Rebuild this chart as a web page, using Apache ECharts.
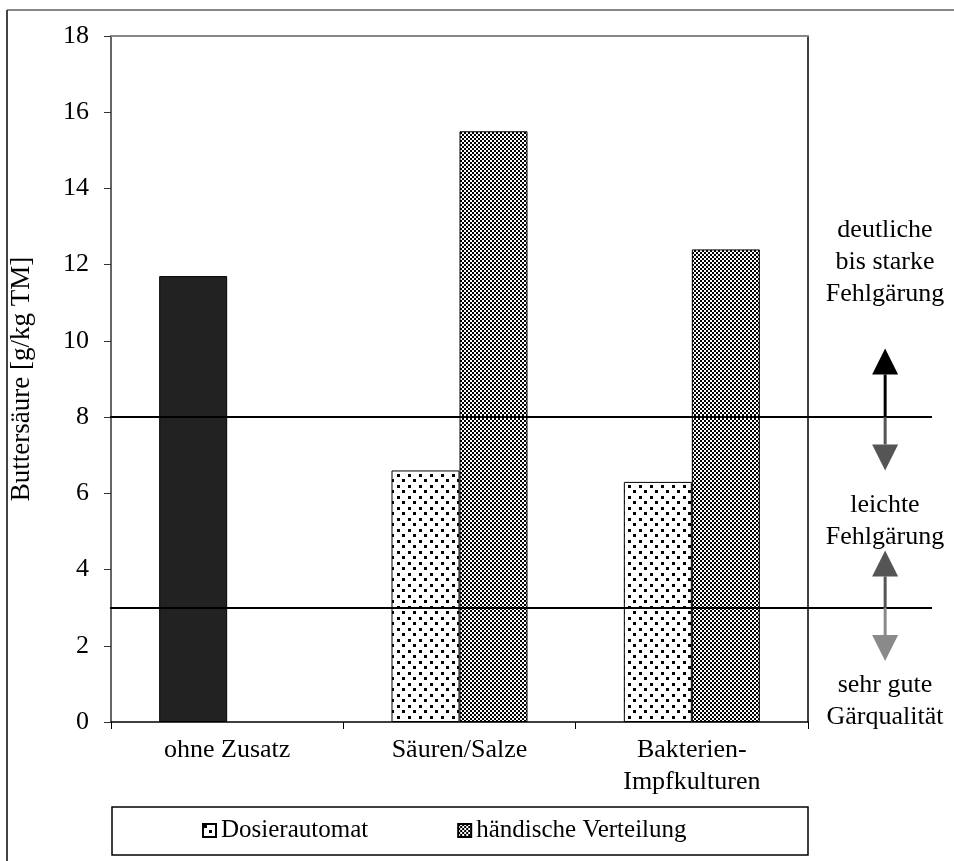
<!DOCTYPE html>
<html>
<head>
<meta charset="utf-8">
<script src="https://cdn.jsdelivr.net/npm/echarts@6/dist/echarts.min.js"></script>
<style>
html,body{margin:0;padding:0;background:#fff;}
#chart{width:954px;height:861px;}
</style>
</head>
<body>
<div id="chart"></div>
<script>
// ---- data ----
var categories = ['ohne Zusatz', 'Säuren/Salze', 'Bakterien-\nImpfkulturen'];
var seriesNames = ['Dosierautomat', 'händische Verteilung'];
var dosierValues = [11.7, 6.6, 6.3];
var haendischValues = [null, 15.5, 12.4];
var thresholds = [8, 3];
var arrowFrom = [8, 8, 3, 3];
var arrowTo = [9.8, 6.6, 4.5, 1.6];
var zoneLabels = ['deutliche\nbis starke\nFehlgärung', 'leichte\nFehlgärung', 'sehr gute\nGärqualität'];
var yAxisName = 'Buttersäure [g/kg TM]';

// ---- patterns ----
function dotPattern() {
  var c = document.createElement('canvas');
  c.width = 11; c.height = 11;
  var g = c.getContext('2d');
  g.fillStyle = '#fff'; g.fillRect(0, 0, 11, 11);
  g.fillStyle = '#000';
  g.fillRect(1, 1, 3, 3);
  g.fillRect(6, 6, 3, 3);
  return c;
}
function checkerPattern() {
  var c = document.createElement('canvas');
  c.width = 4; c.height = 4;
  var g = c.getContext('2d');
  g.fillStyle = '#fff'; g.fillRect(0, 0, 4, 4);
  g.fillStyle = '#000';
  g.fillRect(0, 0, 2, 2);
  g.fillRect(2, 2, 2, 2);
  return c;
}

var FONT = "'Liberation Serif','Times New Roman',serif";
var chart = echarts.init(document.getElementById('chart'), null, {renderer: 'canvas'});

var arrowColors = ['#000', '#555', '#555', '#8a8a8a'];
var arrowData = arrowFrom.map(function (f, i) { return [0.943, f, arrowTo[i], i]; });

var option = {
  backgroundColor: '#fff',
  animation: false,
  textStyle: {fontFamily: FONT},
  grid: [
    {left: 110, right: 146, top: 36, bottom: 139},
    {left: 110, right: 22, top: 36, bottom: 139}
  ],
  legend: {
    data: seriesNames,
    left: 202, top: 818, padding: 0,
    icon: 'rect',
    itemWidth: 13, itemHeight: 13,
    itemGap: 89,
    textStyle: {fontFamily: FONT, fontSize: 25, color: '#000'}
  },
  xAxis: [
    {
      type: 'category', gridIndex: 0, data: categories,
      axisLine: {lineStyle: {color: '#000', width: 1.5}},
      axisTick: {show: true, length: 7, lineStyle: {color: '#000', width: 1}},
      axisLabel: {margin: 12, fontFamily: FONT, fontSize: 26, color: '#000', lineHeight: 32, interval: 0}
    },
    {
      type: 'category', gridIndex: 0, position: 'top', data: categories,
      axisLine: {show: true, onZero: false, lineStyle: {color: '#888', width: 2}},
      axisTick: {show: false}, axisLabel: {show: false}
    },
    {type: 'value', gridIndex: 1, min: 0, max: 1, show: false}
  ],
  yAxis: [
    {
      type: 'value', gridIndex: 0, min: 0, max: 18, interval: 2,
      name: yAxisName, nameLocation: 'middle', nameGap: 76,
      nameTextStyle: {fontFamily: FONT, fontSize: 27, color: '#000'},
      axisLine: {show: true, lineStyle: {color: '#333', width: 1.5}},
      axisTick: {show: true, length: 7, lineStyle: {color: '#333', width: 1}},
      axisLabel: {margin: 22, fontFamily: FONT, fontSize: 26, color: '#000'},
      splitLine: {show: false}
    },
    {
      type: 'value', gridIndex: 0, min: 0, max: 18, position: 'right',
      axisLine: {show: true, onZero: false, lineStyle: {color: '#000', width: 1.5}},
      axisTick: {show: false}, axisLabel: {show: false}, splitLine: {show: false}
    },
    {type: 'value', gridIndex: 1, min: 0, max: 18, show: false}
  ],
  series: [
    {
      name: seriesNames[0], type: 'bar', xAxisIndex: 0, yAxisIndex: 0,
      barWidth: 68, barGap: '0%',
      data: dosierValues.map(function (v, i) {
        return i === 0 ? {value: v, itemStyle: {color: '#222'}} : v;
      }),
      itemStyle: {color: {image: dotPattern(), repeat: 'repeat'}, borderColor: '#000', borderWidth: 1}
    },
    {
      name: seriesNames[1], type: 'bar', xAxisIndex: 0, yAxisIndex: 0,
      barWidth: 68, barGap: '0%',
      data: haendischValues,
      itemStyle: {color: {image: checkerPattern(), repeat: 'repeat'}, borderColor: '#000', borderWidth: 1}
    },
    {
      type: 'custom', xAxisIndex: 2, yAxisIndex: 2, silent: true, z: 5,
      data: arrowData,
      renderItem: function (params, api) {
        var p0 = api.coord([api.value(0), api.value(1)]);
        var p1 = api.coord([api.value(0), api.value(2)]);
        var dir = p1[1] < p0[1] ? -1 : 1;
        var head = 26, half = 13;
        var base = p1[1] - dir * head;
        var col = arrowColors[api.value(3)];
        return {
          type: 'group',
          children: [
            {type: 'line', shape: {x1: p0[0], y1: p0[1], x2: p0[0], y2: base}, style: {stroke: col, lineWidth: 3}},
            {type: 'polygon', shape: {points: [[p1[0], p1[1]], [p1[0] - half, base], [p1[0] + half, base]]}, style: {fill: col}}
          ]
        };
      },
      markLine: {
        silent: true, symbol: 'none',
        label: {show: false},
        lineStyle: {color: '#000', width: 2, type: 'solid'},
        data: thresholds.map(function (t) { return {yAxis: t}; })
      }
    }
  ],
  graphic: [
    {type: 'line', shape: {x1: 7, y1: 10, x2: 954, y2: 10}, style: {stroke: '#888', lineWidth: 2}},
    {type: 'line', shape: {x1: 7, y1: 10, x2: 7, y2: 861}, style: {stroke: '#444', lineWidth: 2}},
    {type: 'rect', shape: {x: 112, y: 807, width: 696, height: 48}, style: {fill: 'none', stroke: '#000', lineWidth: 1.5}}
  ]
};
chart.setOption(option);

// zone labels placed beside the threshold arrows
var zoneY = [262, 521, 701];
chart.setOption({
  graphic: option.graphic.concat(zoneLabels.map(function (t, i) {
    return {
      type: 'text', x: 885, y: zoneY[i],
      style: {text: t, fontFamily: FONT, fontSize: 26, fill: '#000', align: 'center', verticalAlign: 'middle', lineHeight: 32}
    };
  }))
});
</script>
</body>
</html>
